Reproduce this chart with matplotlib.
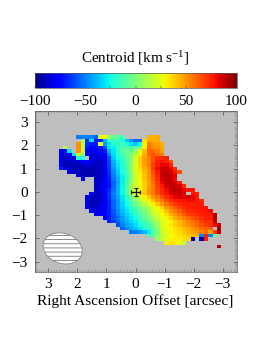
import numpy as np
import matplotlib
matplotlib.use("Agg")
import matplotlib.pyplot as plt
from matplotlib.patches import Ellipse
from matplotlib.transforms import Affine2D
from matplotlib.ticker import MultipleLocator

plt.rcParams['font.family'] = ['Liberation Serif', 'DejaVu Serif']
plt.rcParams['mathtext.fontset'] = 'custom'
plt.rcParams['mathtext.rm'] = 'Liberation Serif'
plt.rcParams['mathtext.default'] = 'regular'
plt.rcParams['hatch.linewidth'] = 0.6

n = np.nan

# centroid velocity [km/s], top row first, left column first (blanks are off source)
rows = [
    [n]*4 + [-50, -50, -50, -50, -55, 25, 28, 5, -5, -8, -15] + [n]*5 + [45, 45, 45],
    [n]*5 + [15, -65, -30, -70, -70, -40, -15, -20, -15, -25, -35, -45, -55, -55, 35, 45, 45, 45],
    [n]*4 + [50, 15, -65, -70, -70, 28, -45, -30, -20, -20, -15, -25, -30, -35, -25, 30, 55, 50, 48, 45],
    [n, 15, n, n, 52, 15, -70, -78, -75, -70, -60, -30, -28, -20, -12, -10, -12, -10, 0, 30, 58, 52, 50, 45],
    [-78, -76, -30, n, 50, 18, -78, -80, -78, -75, -70, -40, -30, -20, -10, -5, -5, 5, 25, 42, 60, 60, 55, 48],
    [-80, -84, -80, -30, 20, 5, -78, -84, -84, -82, -76, -50, -32, -22, -12, -5, 0, 15, 30, 45, 60, 65, 60, 55],
    [-82, -86, -85, -82, -25, -25, n, -82, -86, -85, -78, -60, -35, -25, -18, -8, 2, 20, 38, 48, 55, 65, 72, 72, 75],
    [-84, -88, -88, -88, -85, -78, -76, -82, -88, -86, -80, -62, -40, -28, -20, -10, 3, 20, 38, 48, 55, 65, 75, 78, 75, 65],
    [-82, -90, -90, -90, -90, -88, -84, -86, -90, -88, -82, -62, -42, -30, -22, -10, 5, 22, 38, 48, 55, 68, 76, 82, 82, 75],
    [-68, -80, -88, -90, -90, -90, -90, -90, -90, -88, -82, -65, -45, -32, -22, -12, 5, 22, 35, 45, 52, 68, 80, 86, 87, 80, 72],
    [n, n, -82, -88, -90, -90, -90, -90, -90, -88, -82, -68, -48, -35, -25, -14, 2, 20, 32, 42, 50, 65, 76, 87, 89, 84, 78, 65],
    [n]*4 + [-85, -90, -90, -90, -90, -88, -82, -70, -50, -38, -27, -15, 0, 18, 30, 40, 50, 62, 74, 87, 90, 87, 82],
    [n]*5 + [-78, n, n, -88, -86, -80, -70, -52, -40, -28, -15, 2, 18, 30, 40, 50, 60, 72, 84, 89, 87, 80],
    [n]*8 + [-86, -85, -78, -72, -55, -42, -28, -12, 5, 18, 28, 38, 48, 58, 70, 80, 87, 89, 85, 76],
    [n]*8 + [-88, -85, -76, -72, -55, -40, -27, -10, 8, 20, 28, 38, 48, 56, 68, 76, 84, 89, 89, 84, 74],
    [n]*8 + [-88, -85, -76, -68, -52, -40, -26, -10, 8, 20, 28, 38, 50, 55, 66, 74, 80, 87, 89, 87, 82, 78, 76],
    [n]*7 + [-82, -88, -86, -76, -66, -50, -40, -26, -10, 8, 20, 30, 40, 50, 55, 65, 72, 78, 84, 87, 87, 85, n, 78, 76],
    [n]*6 + [-84, -88, -90, -86, -76, -66, -52, -42, -30, -18, -5, 10, 22, 30, 40, 50, 56, 65, 72, 78, 82, 84, 84, 84, 82, 76],
    [n]*6 + [-84, -90, -90, -86, -78, -68, -54, -44, -32, -22, -10, 2, 12, 22, 30, 40, 50, 56, 65, 72, 75, 78, 78, 80, 80, 78, 74],
    [n]*6 + [-84, -90, -90, -86, -78, -70, -55, -45, -34, -25, -15, -5, 5, 15, 24, 30, 40, 50, 58, 65, 70, 73, 75, 76, 76, 76, 76],
    [n]*6 + [-82, -86, -86, -82, -78, -70, -55, -45, -35, -28, -20, -10, -2, 5, 15, 22, 30, 38, 50, 55, 62, 68, 73, 75, 76, 76, 78, 78],
    [n]*7 + [-80, -84, -82, -78, -70, -58, -48, -38, -30, -24, -15, -8, 0, 10, 18, 26, 32, 42, 50, 56, 62, 68, 72, 74, 75, 76, 78, 80],
    [n]*8 + [-80, -80, -76, -70, -60, -50, -40, -33, -27, -20, -12, -4, 5, 15, 22, 28, 35, 45, 50, 55, 62, 68, 70, 72, 75, 76, 78, 90],
    [n]*10 + [-74, -70, -60, -52, -44, -36, -30, -24, -16, -8, 0, 10, 18, 25, 30, 38, 45, 50, 55, 60, 65, 68, 72, 75, 76, 90],
    [n]*11 + [-68, -62, -55, -46, -40, -34, -28, -20, -14, -6, 3, 12, 22, 26, 30, 38, 42, 48, 54, 58, 62, 68, 72, 72, 88],
    [n]*13 + [-60, -50, -42, -38, -32, -25, -18, -12, -5, 8, 22, 28, 33, 38, 42, 48, 52, 55, 60, 65, 70, 72, 80, 90],
    [n]*14 + [-55, -48, -42, -36, -30, -24, -16, -8, 5, 20, 26, 30, 34, 38, 42, 46, 50, 55, 60, 62, 62, n, 92],
    [n]*16 + [-50, -50, -45, -38, -28, -12, 0, 18, 25, 30, 33, 36, 40, 44, 48, 50, 54, 58, 48, 70, 92],
    [n]*20 + [-15, -8, 3, 15, 22, 28, 32, 34, 36, 40, 42, 45, -50, 75, -50, -5],
    [n]*22 + [8, 16, 24, 30, 32, 32, 34, 36, -92, n, -92, 75],
    [n]*24 + [30, 35, 32, 28, 15],
    [n]*36 + [90],
]

xticks = [3, 2, 1, 0, -1, -2, -3]
yticks = [-3, -2, -1, 0, 1, 2, 3]
cbar_ticks = [-100, -75, -50, -25, 0, 25, 50, 75, 100]
cbar_labels = [-100, -50, 0, 50, 100]

W, H = 278.0, 360.0
ncol = 37
map_data = np.array([r + [n]*(ncol - len(r)) for r in rows], dtype=float)
map_data = np.ma.masked_invalid(map_data)

fig = plt.figure(figsize=(2.78, 3.6), dpi=100, facecolor='white')
ax = fig.add_axes([34.5/W, 1 - 271.5/H, 202/W, 160.5/H], facecolor='#bebebe')

# cell edges in arcsec, cells are square on the sky
cell = 0.1517
x_edges = 2.65 - cell*np.arange(ncol + 1)
y_edges = 2.44 - cell*np.arange(len(rows) + 1)
mesh = ax.pcolormesh(x_edges, y_edges, map_data, cmap='jet', vmin=-100, vmax=100,
                     shading='flat', linewidth=0, rasterized=True)

ax.set_xlim(3.48, -3.48)
ax.set_ylim(-3.42, 3.47)
ax.set_xticks(xticks)
ax.set_yticks(yticks)
ax.set_xticklabels([str(t).replace('-', '\u2212') for t in xticks])
ax.set_yticklabels([str(t).replace('-', '\u2212') for t in yticks])
ax.xaxis.set_minor_locator(MultipleLocator(0.1))
ax.yaxis.set_minor_locator(MultipleLocator(0.1))
ax.tick_params(which='major', direction='in', top=True, right=True, length=3.0, width=0.4,
               color='#333333', labelsize=11, pad=5)
ax.tick_params(which='minor', direction='in', top=True, right=True, length=1.3, width=0.3,
               color='#444444')
for s in ax.spines.values():
    s.set_linewidth(0.5)
    s.set_color('#555555')
ax.set_xlabel('Right Ascension Offset [arcsec]', fontsize=11.1, labelpad=2.0)

# position marker
ax.errorbar([0], [0], xerr=[0.17], yerr=[0.17], color='#111111', lw=0.9, capsize=1.3, capthick=0.8)

# beam
cx, cy = ax.transData.transform((2.51, -2.43))
beam = Ellipse((0, 0), 40, 30, angle=-18, facecolor='white', edgecolor='#777777', lw=0.5,
               hatch='----', transform=Affine2D().translate(cx, cy))
ax.add_patch(beam)

# colour bar
cax = fig.add_axes([34.5/W, 1 - 88.3/H, 202/W, 15.6/H])
cbar = fig.colorbar(mesh, cax=cax, orientation='horizontal')
cbar.outline.set_linewidth(0.5)
cbar.outline.set_edgecolor('#555555')
cax.set_xticks(cbar_ticks)
cax.set_xticklabels([str(t).replace('-', '\u2212') if t in cbar_labels else '' for t in cbar_ticks])
cax.minorticks_off()
cax.tick_params(direction='in', length=1.5, width=0.35, color='#333333', labelsize=11, pad=5)
cax.text(0.5, 1.35, 'Centroid [km s$^{-1}$]', transform=cax.transAxes, ha='center', va='bottom',
         fontsize=10.9)

fig.savefig('out.png', dpi=100)
